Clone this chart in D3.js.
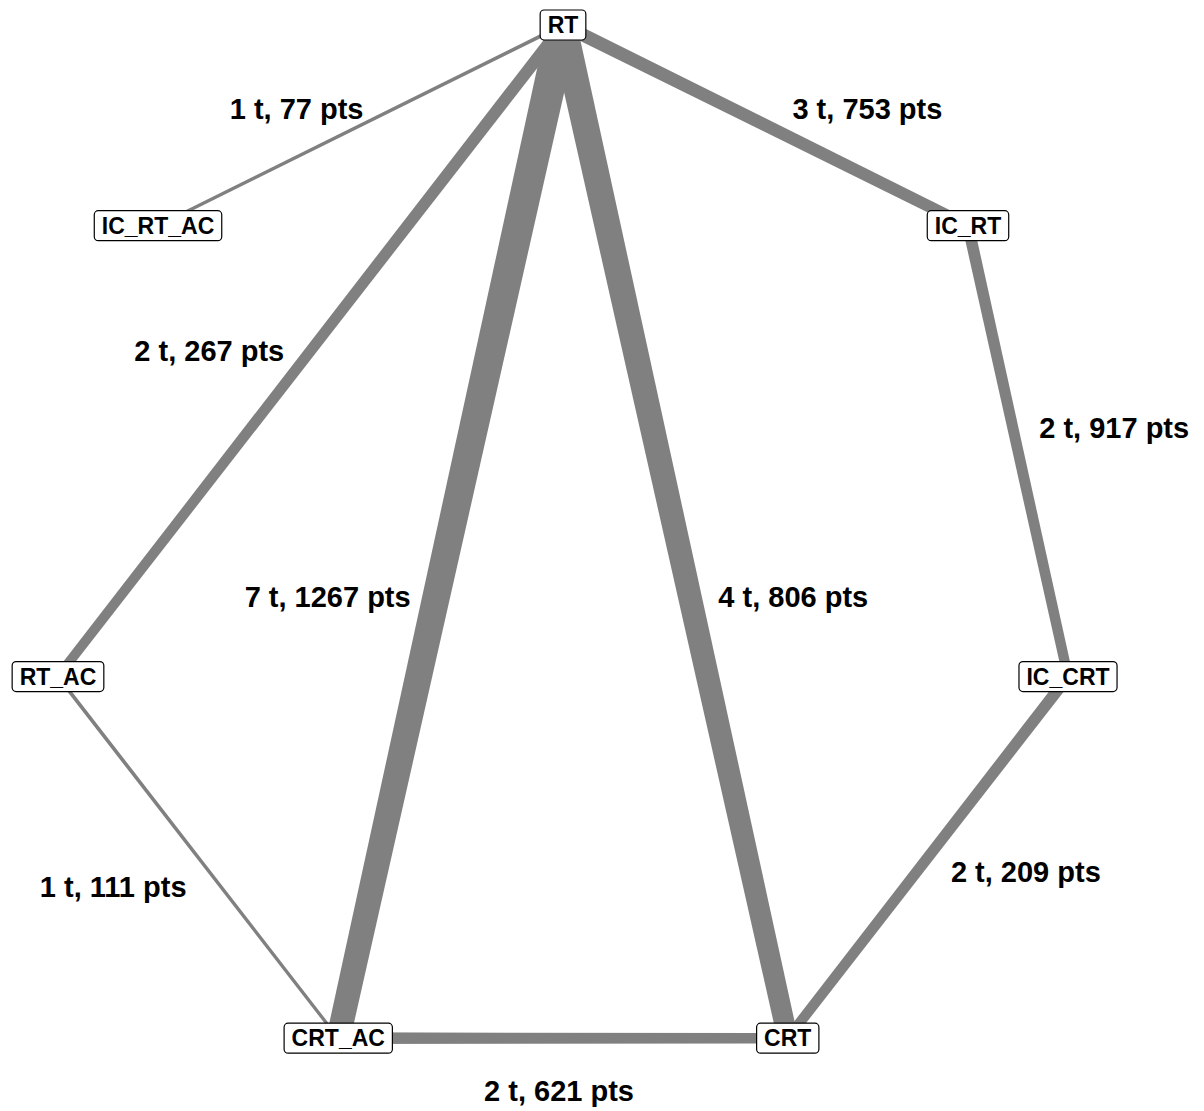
<!DOCTYPE html>
<html>
<head>
<meta charset="utf-8">
<script src="https://cdn.jsdelivr.net/npm/d3@7"></script>
<style>
  html, body { margin: 0; padding: 0; background: #fff; }
  svg { display: block; }
</style>
</head>
<body>
<svg id="chart" width="1204" height="1111"></svg>
<script>
// ---------- data ----------
const nodeNames = ["RT", "IC_RT", "IC_CRT", "CRT", "CRT_AC", "RT_AC", "IC_RT_AC"];
const edgeFrom  = ["RT", "RT", "RT", "IC_RT", "RT", "RT", "RT_AC", "IC_CRT", "CRT_AC"];
const edgeTo    = ["IC_RT_AC", "IC_RT", "RT_AC", "IC_CRT", "CRT_AC", "CRT", "CRT_AC", "CRT", "CRT"];
const edgeT     = [1, 3, 2, 2, 7, 4, 1, 2, 2];
const edgePts   = [77, 753, 267, 917, 1267, 806, 111, 209, 621];

// ---------- layout / style (not data) ----------
const W = 1204, H = 1111;
const svg = d3.select("#chart");
const cx = 563, cy = 558, rx = 518, ry = 533;
const xs = d3.scaleLinear().domain([-1, 1]).range([cx - rx, cx + rx]);
const ys = d3.scaleLinear().domain([-1, 1]).range([cy + ry, cy - ry]);
const angle = d3.scaleLinear().domain([0, nodeNames.length]).range([Math.PI / 2, Math.PI / 2 - 2 * Math.PI]);

const nodes = nodeNames.map((name, i) => {
  const a = angle(i);
  return { name, x: xs(Math.cos(a)), y: ys(Math.sin(a)) };
});
const byName = new Map(nodes.map(n => [n.name, n]));

const widthScale = d3.scaleLinear().domain([1, 2, 3, 4, 7]).range([3.5, 11, 12.5, 24, 28]);
const taperK = 0.14;
// label placement hints: [distance along edge from midpoint, distance outward from edge]
const labelHints = [[50, 43], [84, 60], [62, 80], [-2, 99], [90, 106], [89, 101], [-29, 85], [-49, 86], [-4, 52]];

const edges = edgeFrom.map((f, i) => ({
  s: byName.get(f), t: byName.get(edgeTo[i]), tc: edgeT[i], pts: edgePts[i], hint: labelHints[i]
}));

const edgeColor = "#808080";
const font = "'Liberation Sans', Arial, Helvetica, sans-serif";

const gEdges = svg.append("g");
edges.forEach(e => {
  const dx = e.t.x - e.s.x, dy = e.t.y - e.s.y;
  const len = Math.hypot(dx, dy);
  const ux = dx / len, uy = dy / len;
  const nx = -uy, ny = ux;
  const w = widthScale(e.tc);
  const f = taperK * len / 1000;
  const w0 = w * (1 + f) / 2, w1 = w * (1 - f) / 2;
  const pts = [
    [e.s.x + nx * w0, e.s.y + ny * w0],
    [e.t.x + nx * w1, e.t.y + ny * w1],
    [e.t.x - nx * w1, e.t.y - ny * w1],
    [e.s.x - nx * w0, e.s.y - ny * w0]
  ];
  gEdges.append("path")
    .attr("d", d3.line()(pts) + "Z")
    .attr("fill", edgeColor);
  e.geom = { ux, uy, nx, ny, mx: (e.s.x + e.t.x) / 2, my: (e.s.y + e.t.y) / 2 };
});

// edge labels
const gLabels = svg.append("g");
edges.forEach(e => {
  const g = e.geom;
  let nx = g.nx, ny = g.ny;
  if ((g.mx - cx) * nx + (g.my - cy) * ny < 0) { nx = -nx; ny = -ny; }
  const lx = g.mx + g.ux * e.hint[0] + nx * e.hint[1];
  const ly = g.my + g.uy * e.hint[0] + ny * e.hint[1];
  gLabels.append("text")
    .attr("x", lx).attr("y", ly)
    .attr("dy", "0.36em")
    .attr("text-anchor", "middle")
    .attr("font-family", font)
    .attr("font-weight", "bold")
    .attr("font-size", 29)
    .attr("fill", "#000")
    .text(`${e.tc} t, ${e.pts} pts`);
});

// nodes
const gNodes = svg.append("g");
nodes.forEach(n => {
  const g = gNodes.append("g").attr("transform", `translate(${n.x},${n.y})`);
  const rect = g.append("rect");
  const txt = g.append("text")
    .attr("text-anchor", "middle")
    .attr("dy", "0.36em")
    .attr("font-family", font)
    .attr("font-weight", "bold")
    .attr("font-size", 23)
    .attr("fill", "#000")
    .text(n.name);
  const tw = txt.node().getComputedTextLength();
  const bw = tw + 15, bh = 30;
  rect.attr("x", -bw / 2).attr("y", -bh / 2)
    .attr("width", bw).attr("height", bh)
    .attr("rx", 4).attr("ry", 4)
    .attr("fill", "#fff").attr("stroke", "#000").attr("stroke-width", 1.2);
});
</script>
</body>
</html>
